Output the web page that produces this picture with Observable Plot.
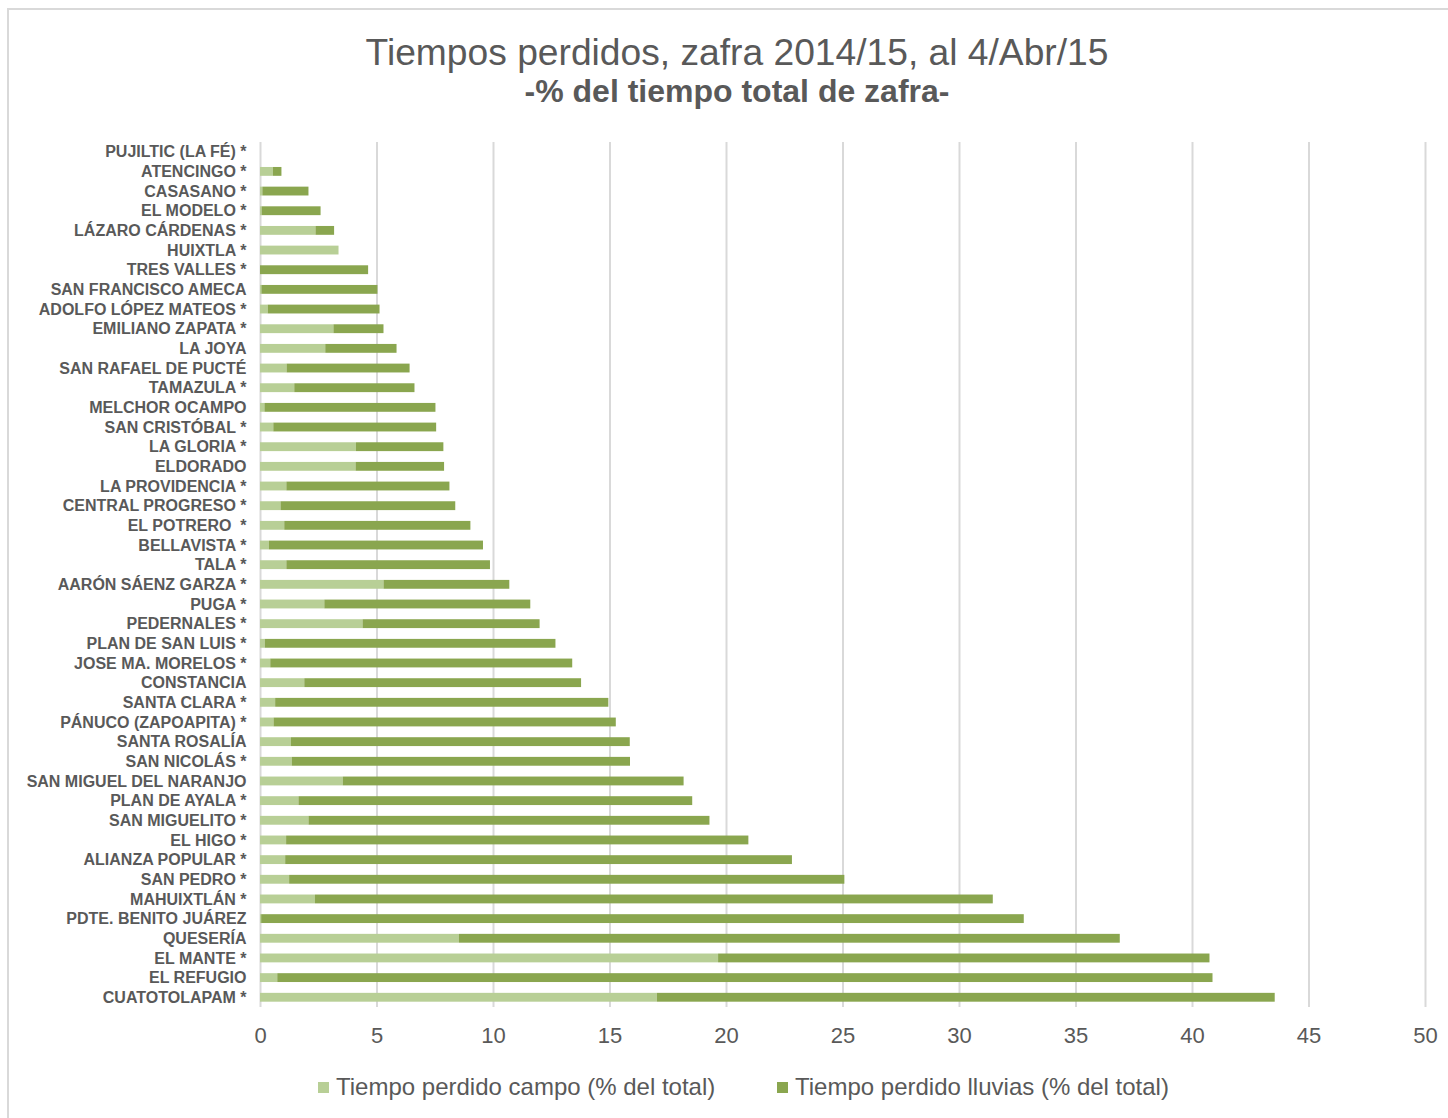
<!DOCTYPE html>
<html>
<head>
<meta charset="utf-8">
<script src="https://cdn.jsdelivr.net/npm/d3@7"></script>
<script src="https://cdn.jsdelivr.net/npm/@observablehq/plot@0.6"></script>
<style>
  html, body { margin: 0; padding: 0; background: #fff; }
  body { font-family: "Liberation Sans", Arial, sans-serif; color: #595959; }
  #wrap { position: relative; width: 1448px; height: 1118px; overflow: hidden; background: #fff; }
  #frame { position: absolute; left: 7px; top: 8px; width: 1470px; height: 1140px; border: 2px solid #d9d9d9; box-sizing: border-box; }
  #chart { position: absolute; left: 0; top: 0; }
  .title { position: absolute; left: 0; width: 1474px; text-align: center; line-height: 1; white-space: nowrap; }
  #t1 { top: 34px; font-size: 37.2px; font-weight: normal; }
  #t2 { top: 75px; font-size: 32px; font-weight: bold; }
  #legend { position: absolute; top: 1074px; left: 318px; font-size: 24px; line-height: 26px; white-space: nowrap; }
  .li { position: absolute; top: 0; display: flex; align-items: center; }
  .sw { width: 11px; height: 11px; margin-right: 7px; }
</style>
</head>
<body>
<div id="wrap">
  <div id="frame"></div>
  <div id="chart"></div>
  <div class="title" id="t1">Tiempos perdidos, zafra 2014/15, al 4/Abr/15</div>
  <div class="title" id="t2">-% del tiempo total de zafra-</div>
  <div id="legend"></div>
</div>
<script>
const categories = [
  "PUJILTIC (LA FÉ) *", "ATENCINGO *", "CASASANO *", "EL MODELO *", "LÁZARO CÁRDENAS *",
  "HUIXTLA *", "TRES VALLES *", "SAN FRANCISCO AMECA", "ADOLFO LÓPEZ MATEOS *", "EMILIANO ZAPATA *",
  "LA JOYA", "SAN RAFAEL DE PUCTÉ", "TAMAZULA *", "MELCHOR OCAMPO", "SAN CRISTÓBAL *",
  "LA GLORIA *", "ELDORADO", "LA PROVIDENCIA *", "CENTRAL PROGRESO *", "EL POTRERO\u00a0 *",
  "BELLAVISTA *", "TALA *", "AARÓN SÁENZ GARZA *", "PUGA *", "PEDERNALES *",
  "PLAN DE SAN LUIS *", "JOSE MA. MORELOS *", "CONSTANCIA", "SANTA CLARA *", "PÁNUCO (ZAPOAPITA) *",
  "SANTA ROSALÍA", "SAN NICOLÁS *", "SAN MIGUEL DEL NARANJO", "PLAN DE AYALA *", "SAN MIGUELITO *",
  "EL HIGO *", "ALIANZA POPULAR *", "SAN PEDRO *", "MAHUIXTLÁN *", "PDTE. BENITO JUÁREZ",
  "QUESERÍA", "EL MANTE *", "EL REFUGIO", "CUATOTOLAPAM *"
];

const campo = [
  0, 0.55, 0.10, 0.07, 2.38,
  3.37, 0, 0.06, 0.33, 3.15,
  2.80, 1.14, 1.47, 0.19, 0.57,
  4.12, 4.10, 1.13, 0.88, 1.04,
  0.38, 1.13, 5.30, 2.76, 4.40,
  0.20, 0.44, 1.90, 0.65, 0.58,
  1.33, 1.36, 3.55, 1.65, 2.08,
  1.12, 1.08, 1.25, 2.36, 0.05,
  8.54, 19.66, 0.74, 17.03
];

const lluvias = [
  0, 0.37, 1.98, 2.53, 0.80,
  0, 4.64, 4.98, 4.80, 2.15,
  3.06, 5.28, 5.16, 7.34, 6.99,
  3.75, 3.80, 7.00, 7.50, 7.99,
  9.19, 8.74, 5.40, 8.84, 7.60,
  12.48, 12.96, 11.88, 14.30, 14.69,
  14.54, 14.52, 14.63, 16.90, 17.21,
  19.84, 21.75, 23.83, 29.09, 32.73,
  28.36, 21.09, 40.14, 26.52
];

const series = ["Tiempo perdido campo (% del total)", "Tiempo perdido lluvias (% del total)"];
const colors = ["#b8cf96", "#8aa64f"];
const xTicks = [0, 5, 10, 15, 20, 25, 30, 35, 40, 45, 50];

const rows = [];
categories.forEach((c, i) => {
  rows.push({ name: c, serie: series[0], value: campo[i] });
  rows.push({ name: c, serie: series[1], value: lluvias[i] });
});

const chart = Plot.plot({
  width: 1448,
  height: 1118,
  marginTop: 142,
  marginBottom: 111,
  marginLeft: 260,
  marginRight: 23,
  style: { fontFamily: "'Liberation Sans', Arial, sans-serif", background: "transparent", color: "#595959" },
  x: { domain: [0, 50], ticks: xTicks, label: null },
  y: { domain: categories, paddingInner: 0.55, paddingOuter: 0.27, round: false, label: null },
  color: { domain: series, range: colors },
  marks: [
    Plot.gridX(xTicks, { stroke: "#d9d9d9", strokeOpacity: 1, strokeWidth: 2 }),
    Plot.barX(rows, { y: "name", x: "value", fill: "serie", order: series }),
    Plot.axisX({ ticks: xTicks, tickSize: 0, tickPadding: 20, fontSize: 22, fill: "#595959", label: null }),
    Plot.axisY({ tickSize: 0, tickPadding: 14, fontSize: 16, fontWeight: "bold", fill: "#595959", label: null })
  ]
});
document.getElementById("chart").appendChild(chart);

const legend = document.getElementById("legend");
const offsets = [0, 459];
series.forEach((s, i) => {
  const item = document.createElement("div");
  item.className = "li";
  item.style.left = offsets[i] + "px";
  const sw = document.createElement("span");
  sw.className = "sw";
  sw.style.background = colors[i];
  const tx = document.createElement("span");
  tx.textContent = s;
  item.appendChild(sw);
  item.appendChild(tx);
  legend.appendChild(item);
});
</script>
</body>
</html>
